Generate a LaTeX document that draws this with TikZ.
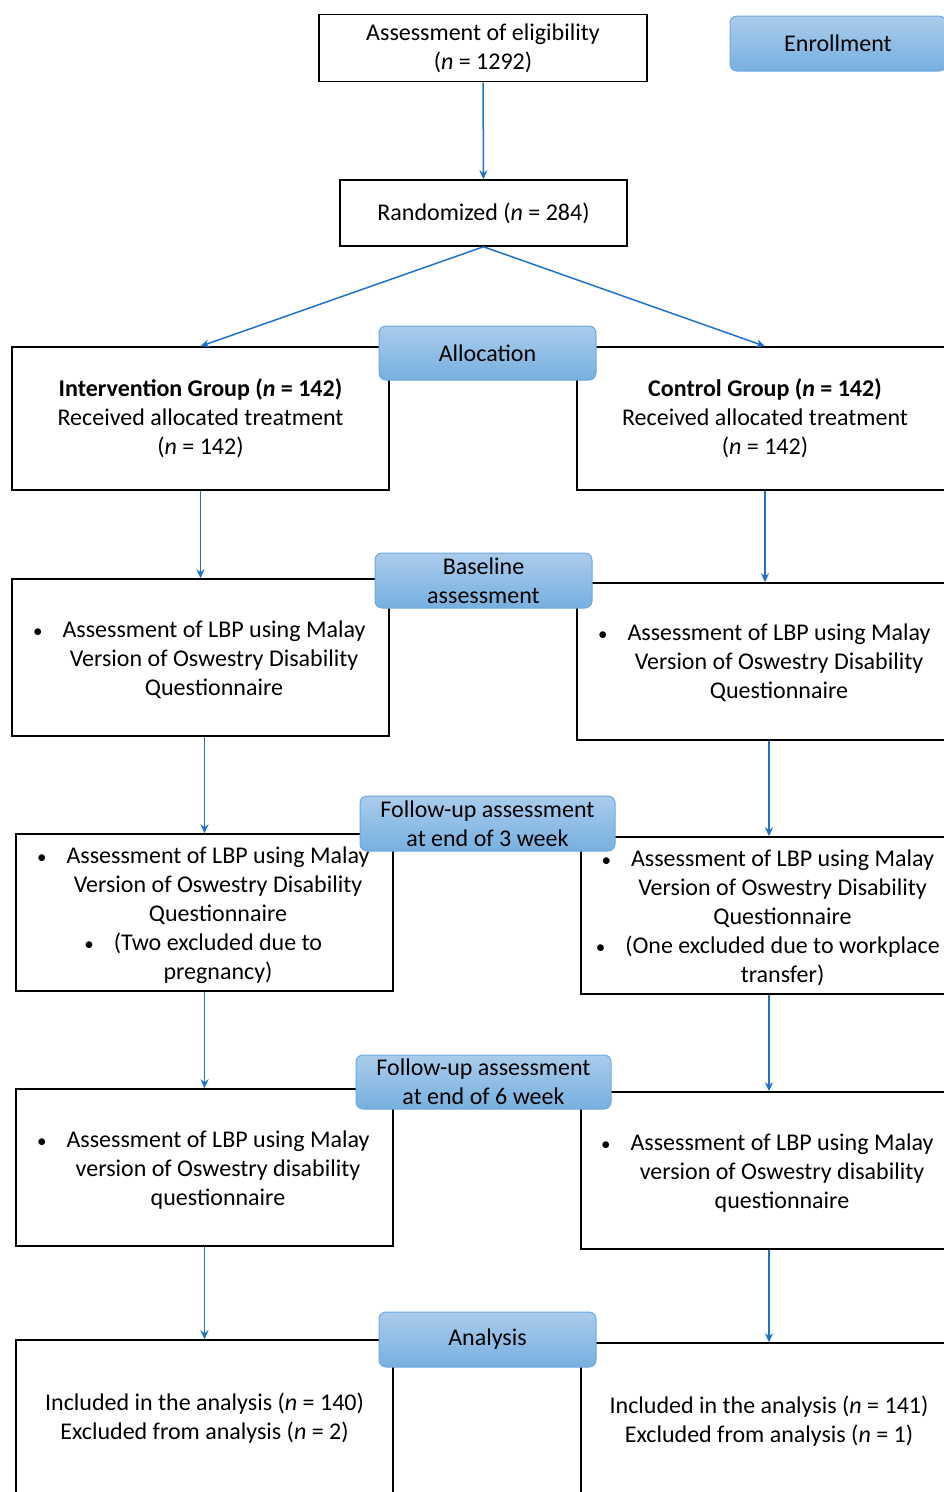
\documentclass[tikz,border=0pt]{standalone}
\usepackage{fontspec}
\setmainfont{Carlito}
\usetikzlibrary{positioning,arrows.meta}
\definecolor{flowblue}{RGB}{31,113,204}
\definecolor{stagetop}{RGB}{170,204,236}
\definecolor{stagebot}{RGB}{118,176,224}
\definecolor{stageline}{RGB}{110,168,222}
\newcommand{\itembul}{\llap{{\fontsize{19}{19}\selectfont\textbullet}\hspace{20pt}}}

\begin{document}
\begin{tikzpicture}[x=1pt, y=-1pt,
box/.style={draw=black, line width=1.5pt, fill=white, inner sep=0pt, align=center, font=\fontsize{24}{29}\selectfont},
txt/.style={align=center, inner sep=0pt, font=\fontsize{24}{29}\selectfont},
stage/.style={rounded corners=7pt, draw=stageline, line width=1pt, top color=stagetop, bottom color=stagebot, align=center, inner sep=0pt, font=\fontsize{24}{29}\selectfont},
arr/.style={draw=flowblue, line width=1.5pt, -{Stealth[length=9pt,width=8pt]}}
]
\useasboundingbox (0,0) rectangle (944,1492);

% top part
\node[box, minimum width=328pt, minimum height=67pt] (elig) at (483,48) {
    Assessment of eligibility\\
    (\textit{n} = 1292)
};
\node[box, minimum width=287pt, minimum height=66pt] (rand) at (483.5,213) {Randomized (\textit{n} = 284)};

% allocation
\node[box, minimum width=377pt, minimum height=143pt] (intv) at (200.5,418.5) {
    \textbf{Intervention Group (\textit{n} = 142)}\\
    Received allocated treatment\\
    (\textit{n} = 142)
};
\node[box, minimum width=376pt, minimum height=143pt] (ctrl) at (765,418.5) {
    \textbf{Control Group (\textit{n} = 142)}\\
    Received allocated treatment\\
    (\textit{n} = 142)
};

% baseline
\node[box, minimum width=377pt, minimum height=157pt] (baseL) at (200.5,657.5) {};
\node[txt] (baseLtxt) at (214,660) {
    \itembul Assessment of LBP using Malay\\
    Version of Oswestry Disability\\
    Questionnaire
};
\node[box, minimum width=376pt, minimum height=157pt] (baseR) at (765,661.5) {};
\node[txt] (baseRtxt) at (779,663) {
    \itembul Assessment of LBP using Malay\\
    Version of Oswestry Disability\\
    Questionnaire
};

% 3 week
\node[box, minimum width=377pt, minimum height=157pt] (wkthreeL) at (204.5,912.5) {};
\node[txt] (wkthreeLtxt) at (218,915) {
    \itembul Assessment of LBP using Malay\\
    Version of Oswestry Disability\\
    Questionnaire\\
    \itembul (Two excluded due to\\
    pregnancy)
};
\node[box, minimum width=376pt, minimum height=157pt] (wkthreeR) at (769,915.5) {};
\node[txt] (wkthreeRtxt) at (782.5,918) {
    \itembul Assessment of LBP using Malay\\
    Version of Oswestry Disability\\
    Questionnaire\\
    \itembul (One excluded due to workplace\\
    transfer)
};

% 6 week
\node[box, minimum width=377pt, minimum height=157pt] (wksixL) at (204.5,1167.5) {};
\node[txt] (wksixLtxt) at (218,1170) {
    \itembul Assessment of LBP using Malay\\
    version of Oswestry disability\\
    questionnaire
};
\node[box, minimum width=376pt, minimum height=157pt] (wksixR) at (769,1170.5) {};
\node[txt] (wksixRtxt) at (782,1173) {
    \itembul Assessment of LBP using Malay\\
    version of Oswestry disability\\
    questionnaire
};

% analysis
\node[box, minimum width=377pt, minimum height=157pt] (anL) at (204.5,1418.5) {
    Included in the analysis (\textit{n} = 140)\\
    Excluded from analysis (\textit{n} = 2)
};
\node[box, minimum width=376pt, minimum height=157pt] (anR) at (769,1421.5) {
    Included in the analysis (\textit{n} = 141)\\
    Excluded from analysis (\textit{n} = 1)
};

% connectors
\draw[arr] (elig) -- (rand);
\draw[arr] (rand.south) -- (intv.north);
\draw[arr] (rand.south) -- (ctrl.north);
\draw[arr] (intv) -- (baseL);
\draw[arr] (ctrl) -- (baseR);
\draw[arr] (wkthreeL.north |- baseL.south) -- (wkthreeL.north);
\draw[arr] (wkthreeR.north |- baseR.south) -- (wkthreeR.north);
\draw[arr] (wkthreeL) -- (wksixL);
\draw[arr] (wkthreeR) -- (wksixR);
\draw[arr] (wksixL) -- (anL);
\draw[arr] (wksixR) -- (anR);

% stage labels
\node[stage, minimum width=216pt, minimum height=55pt] (enroll) at (838,43.5) {Enrollment};
\node[stage, minimum width=217pt, minimum height=54pt] (alloc) at (487.5,353) {Allocation};
\node[stage, minimum width=217pt, minimum height=55pt] (baseline) at (483.5,580.5) {
    Baseline\\
    assessment
};
\node[stage, minimum width=255pt, minimum height=55pt] (futhree) at (487.5,823.5) {
    Follow-up assessment\\
    at end of 3 week
};
\node[stage, minimum width=255pt, minimum height=54pt] (fusix) at (483.5,1082) {
    Follow-up assessment\\
    at end of 6 week
};
\node[stage, minimum width=217pt, minimum height=55pt] (analysis) at (487.5,1339.5) {Analysis};
\end{tikzpicture}
\end{document}
